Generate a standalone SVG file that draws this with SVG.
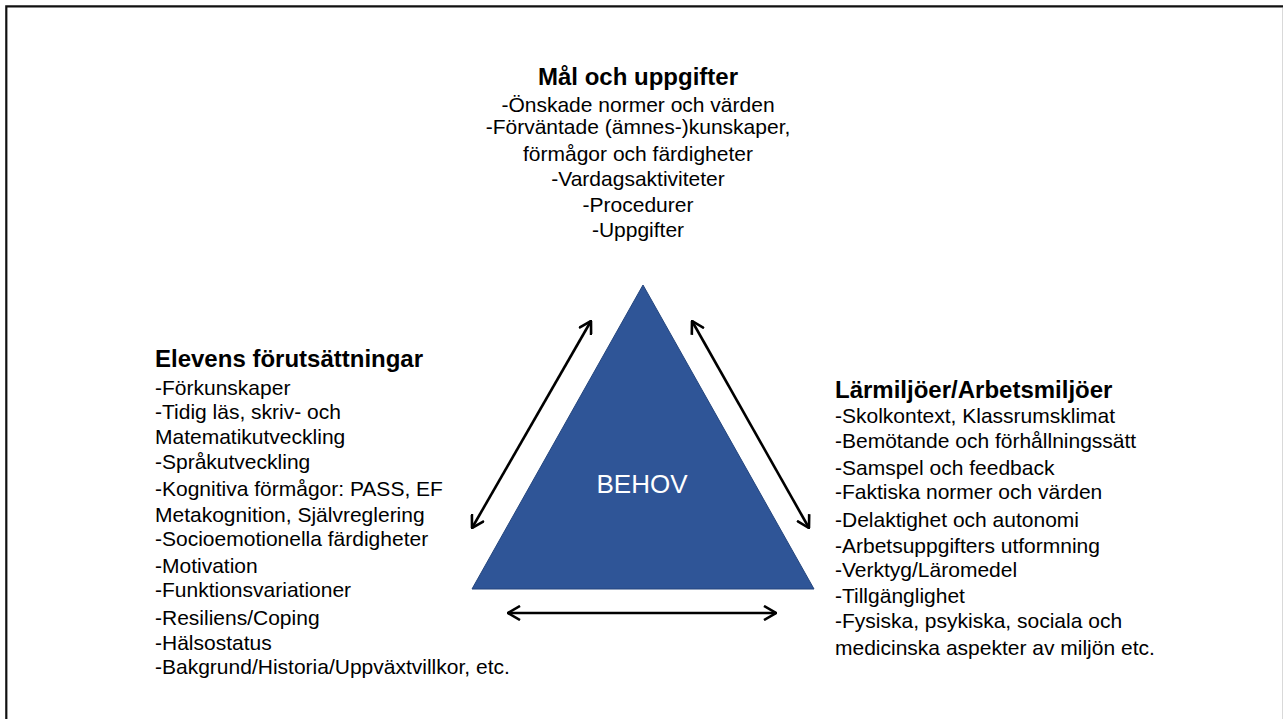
<svg xmlns="http://www.w3.org/2000/svg" width="1283" height="719" viewBox="0 0 1283 719">
<style>
text{font-family:"Liberation Sans",Arial,sans-serif;fill:#000}
.h{font-size:24px;font-weight:bold}
.b{font-size:21px}
.c{text-anchor:middle}
.arr{stroke:#000;stroke-width:2.6;fill:none;marker-start:url(#ah);marker-end:url(#ah)}
</style>
<defs>
<marker id="ah" markerUnits="userSpaceOnUse" viewBox="0 0 14 16" refX="13" refY="8" markerWidth="14" markerHeight="16" orient="auto-start-reverse">
<path d="M1,1 L13,8 L1,15" fill="none" stroke="#000" stroke-width="2.6" stroke-linejoin="miter"/>
</marker>
</defs>
<rect x="0" y="0" width="1283" height="719" fill="#fff"/>
<g id="frame">
<path d="M6.3,719 V6.3 H1283" fill="none" stroke="#111" stroke-width="2.2"/>
<line x1="1282.5" y1="8" x2="1282.5" y2="719" stroke="#d9d9d9" stroke-width="1"/>
</g>
<g id="behov">
<polygon points="643,285 472,589 814,589" fill="#2f5597" stroke="#24457d" stroke-width="1"/>
<text x="642" y="493" class="c" style="font-size:26px;fill:#fff">BEHOV</text>
</g>
<g id="connectors">
<line class="arr" x1="472" y1="528" x2="591" y2="321"/>
<line class="arr" x1="692" y1="321" x2="809" y2="528"/>
<line class="arr" x1="508" y1="613" x2="776" y2="613"/>
</g>
<g id="mal">
<text x="638" y="85" class="h c">Mål och uppgifter</text>
<text x="638" y="112" class="b c">-Önskade normer och värden</text>
<text x="638" y="134" class="b c">-Förväntade (ämnes-)kunskaper,</text>
<text x="638" y="161" class="b c">förmågor och färdigheter</text>
<text x="638" y="186" class="b c">-Vardagsaktiviteter</text>
<text x="638" y="212" class="b c">-Procedurer</text>
<text x="638" y="237" class="b c">-Uppgifter</text>
</g>
<g id="elevens">
<text x="155" y="367" class="h">Elevens förutsättningar</text>
<text x="155" y="395" class="b">-Förkunskaper</text>
<text x="155" y="419" class="b">-Tidig läs, skriv- och</text>
<text x="155" y="444" class="b">Matematikutveckling</text>
<text x="155" y="469" class="b">-Språkutveckling</text>
<text x="155" y="496" class="b">-Kognitiva förmågor: PASS, EF</text>
<text x="155" y="522" class="b">Metakognition, Självreglering</text>
<text x="155" y="546" class="b">-Socioemotionella färdigheter</text>
<text x="155" y="573" class="b">-Motivation</text>
<text x="155" y="597" class="b">-Funktionsvariationer</text>
<text x="155" y="625" class="b">-Resiliens/Coping</text>
<text x="155" y="650" class="b">-Hälsostatus</text>
<text x="155" y="674" class="b">-Bakgrund/Historia/Uppväxtvillkor, etc.</text>
</g>
<g id="larmiljoer">
<text x="835" y="398" class="h">Lärmiljöer/Arbetsmiljöer</text>
<text x="835" y="423" class="b">-Skolkontext, Klassrumsklimat</text>
<text x="835" y="448" class="b">-Bemötande och förhållningssätt</text>
<text x="835" y="475" class="b">-Samspel och feedback</text>
<text x="835" y="499" class="b">-Faktiska normer och värden</text>
<text x="835" y="527" class="b">-Delaktighet och autonomi</text>
<text x="835" y="553" class="b">-Arbetsuppgifters utformning</text>
<text x="835" y="577" class="b">-Verktyg/Läromedel</text>
<text x="835" y="603" class="b">-Tillgänglighet</text>
<text x="835" y="628" class="b">-Fysiska, psykiska, sociala och</text>
<text x="835" y="655" class="b">medicinska aspekter av miljön etc.</text>
</g>
</svg>
